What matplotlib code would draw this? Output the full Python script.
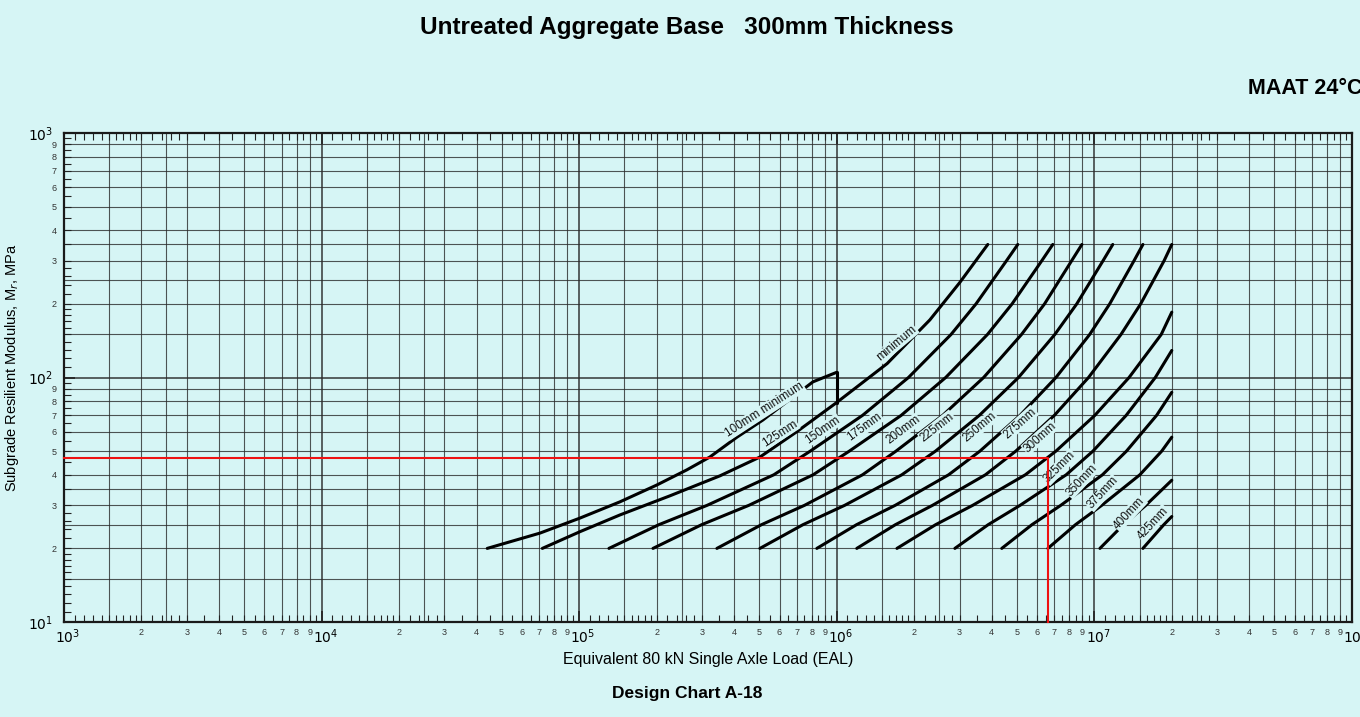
import numpy as np
import matplotlib.pyplot as plt
import matplotlib.transforms as mtransforms
from matplotlib.ticker import FixedLocator, FuncFormatter

plt.rcParams['font.family'] = ['Liberation Sans', 'DejaVu Sans']

BG = '#d6f5f5'

# design curves: EAL (x) vs subgrade resilient modulus in MPa (y)
mr_std = [20, 25, 30, 40, 50, 70, 100, 150, 200, 300, 350]

eal_100 = [44000, 70500, 100700, 144000, 200000, 262000, 322000, 410000, 517000, 809000, 1000000]
mr_100 = [20, 23.1, 26.6, 31, 36.3, 41.9, 47.3, 57, 67, 96, 105]
eal_step = [1000000, 1000000]
mr_step = [105, 79]
eal_125 = [72000, 100700, 144000, 225000, 352000, 504000, 700000, 1000000, 1570000, 2300000, 3000000, 3860000]
mr_125 = [20, 23.4, 27.4, 32.8, 39.6, 47.3, 60, 79, 114, 172, 244, 350]
eal_150 = [130600, 204000, 314000, 570000, 790000, 1260000, 1900000, 2780000, 3475000, 4560000, 5047000]
eal_175 = [193600, 299000, 456000, 810000, 1120000, 1780000, 2650000, 3850000, 4797000, 6252000, 6902000]
eal_200 = [342800, 510500, 750000, 1260000, 1700000, 2580000, 3720000, 5220000, 6412000, 8166000, 8954000]
eal_225 = [503500, 739600, 1074000, 1790000, 2420000, 3580000, 5080000, 7030000, 8551000, 10810000, 11800000]
eal_250 = [837500, 1194000, 1687000, 2720000, 3600000, 5150000, 7100000, 9600000, 11480000, 14260000, 15450000]
eal_275 = [1197000, 1690000, 2355000, 3780000, 4960000, 7000000, 9500000, 12700000, 15140000, 18660000, 20000000]
eal_300 = [1714000, 2421000, 3373000, 5400000, 7100000, 10050000, 13650000, 18200000, 20000000]
mr_300 = [20, 25, 30, 40, 50, 70, 100, 150, 185]
eal_325 = [2877000, 3873000, 5152000, 7780000, 9886000, 13300000, 17260000, 20000000]
mr_325 = [20, 25, 30, 40, 50, 70, 100, 129]
eal_350 = [4375000, 5728000, 7413000, 10760000, 13340000, 17460000, 20000000]
mr_350 = [20, 25, 30, 40, 50, 70, 87]
eal_375 = [6607000, 8453000, 10690000, 15030000, 18280000, 20000000]
mr_375 = [20, 25, 30, 40, 50, 57]
eal_400 = [10520000, 12970000, 15850000, 20000000]
mr_400 = [20, 25, 30, 38]
eal_425 = [15450000, 18620000, 20000000]
mr_425 = [20, 25, 27]

curves = [
    (eal_100, mr_100), (eal_step, mr_step), (eal_125, mr_125), (eal_150, mr_std),
    (eal_175, mr_std), (eal_200, mr_std), (eal_225, mr_std), (eal_250, mr_std),
    (eal_275, mr_std), (eal_300, mr_300), (eal_325, mr_325), (eal_350, mr_350),
    (eal_375, mr_375), (eal_400, mr_400), (eal_425, mr_425),
]

label_text = ['100mm minimum', '125mm', '150mm', '175mm', '200mm', '225mm', '250mm',
              '275mm', '300mm', '325mm', '350mm', '375mm', '400mm', '425mm', 'minimum']
label_eal = [526000, 603000, 884000, 1285000, 1810000, 2450000, 3600000,
             5140000, 6150000, 7350000, 8950000, 10800000, 13700000, 16900000, 1710000]
label_mr = [73.6, 59, 61, 62.7, 61, 62.7, 62.7, 65, 57, 43, 38, 33.7, 27.9, 25.4, 138]
label_rot = [33, 33, 35, 36, 37, 38, 40, 42, 42, 45, 47, 47, 47, 47, 40]

# design example (red)
ex_eal = [1000, 6600000, 6600000]
ex_mr = [47, 47, 10]

fig = plt.figure(figsize=(13.6, 7.17), dpi=100, facecolor=BG)
ax = fig.add_axes([0.047, 0.1325, 0.947, 0.682])
ax.set_facecolor(BG)
ax.set_xscale('log')
ax.set_yscale('log')
ax.set_xlim(1e3, 1e8)
ax.set_ylim(10, 1000)

# printed grid
x_mant = [1, 1.5, 2, 2.5, 3, 4, 5, 6, 7, 8, 9]
y_mant = [1, 1.5, 2, 2.5, 3, 3.5, 4, 5, 6, 7, 8, 9]
for d in range(3, 8):
    for m in x_mant:
        ax.axvline(m * 10 ** d, color='#2a2a2a', lw=1.3 if m == 1 else 0.8, alpha=0.8, zorder=1)
for d in range(1, 3):
    for m in y_mant:
        ax.axhline(m * 10 ** d, color='#2a2a2a', lw=1.3 if m == 1 else 0.8, alpha=0.8, zorder=1)

for xs, ys in curves:
    ax.plot(xs, ys, color='black', lw=2.2, solid_capstyle='round', solid_joinstyle='round', zorder=3)

for t, xv, yv, r in zip(label_text, label_eal, label_mr, label_rot):
    ax.text(xv, yv, t, rotation=r, rotation_mode='anchor', ha='center', va='center',
            fontsize=8.5, color='#111111', zorder=4,
            bbox=dict(boxstyle='square,pad=0.05', fc=BG, ec='none'))

ax.plot(ex_eal, ex_mr, color='#ee1111', lw=1.5, zorder=5, clip_on=False)


# ticks
def mant_label(v, pos):
    e = np.floor(np.log10(v) + 1e-9)
    m = v / 10 ** e
    if abs(m - round(m)) < 1e-6 and round(m) > 1:
        return str(int(round(m)))
    return ''


x_major = [1e3, 1e4, 1e5, 1e6, 1e7, 1e8]
y_major = [10, 100, 1000]
fine = [1.1, 1.2, 1.3, 1.4, 1.5, 1.6, 1.7, 1.8, 1.9, 2, 2.2, 2.4, 2.6, 2.8, 3, 3.5, 4, 4.5,
        5, 5.5, 6, 6.5, 7, 7.5, 8, 8.5, 9, 9.5]
x_minor = [m * 10 ** d for d in range(3, 8) for m in fine]
y_minor = [m * 10 ** d for d in range(1, 3) for m in fine]

ax.xaxis.set_major_locator(FixedLocator(x_major))
ax.xaxis.set_minor_locator(FixedLocator(x_minor))
ax.yaxis.set_major_locator(FixedLocator(y_major))
ax.yaxis.set_minor_locator(FixedLocator(y_minor))
ax.xaxis.set_major_formatter(FuncFormatter(lambda v, p: r'$10^{%d}$' % round(np.log10(v))))
ax.yaxis.set_major_formatter(FuncFormatter(lambda v, p: r'$10^{%d}$' % round(np.log10(v))))
ax.xaxis.set_minor_formatter(FuncFormatter(mant_label))
ax.yaxis.set_minor_formatter(FuncFormatter(mant_label))

ax.tick_params(which='both', direction='in', top=True, right=False, color='#222222')
ax.tick_params(which='major', length=8, width=1.2, labelsize=10)
ax.tick_params(which='minor', length=5, width=0.8, labelsize=6.5, labelcolor='#333333')
ax.tick_params(axis='x', which='both', pad=4)
ax.tick_params(axis='y', which='major', pad=8)
ax.tick_params(axis='y', which='minor', pad=5)
for s in ax.spines.values():
    s.set_linewidth(1.6)
    s.set_color('#1a1a1a')

# decade labels sit a little right of their line, as printed
shift = mtransforms.ScaledTranslation(4 / 100, 0, fig.dpi_scale_trans)
for lab in ax.xaxis.get_majorticklabels():
    lab.set_transform(lab.get_transform() + shift)

ax.set_xlabel('Equivalent 80 kN Single Axle Load (EAL)', fontsize=11.5, labelpad=4)
ax.set_ylabel('Subgrade Resilient Modulus, M$_r$, MPa', fontsize=10.5, labelpad=6)
ax.yaxis.set_label_coords(-0.033, 0.52)

fig.text(0.505, 0.961, 'Untreated Aggregate Base   300mm Thickness', ha='center', va='center',
         fontsize=17.5, fontweight='bold')
fig.text(0.918, 0.877, 'MAAT 24°C', ha='left', va='center', fontsize=15.5, fontweight='bold')
fig.text(0.505, 0.033, 'Design Chart A-18', ha='center', va='center', fontsize=12.5,
         fontweight='bold')

fig.savefig('out.png', dpi=100, facecolor=BG)
